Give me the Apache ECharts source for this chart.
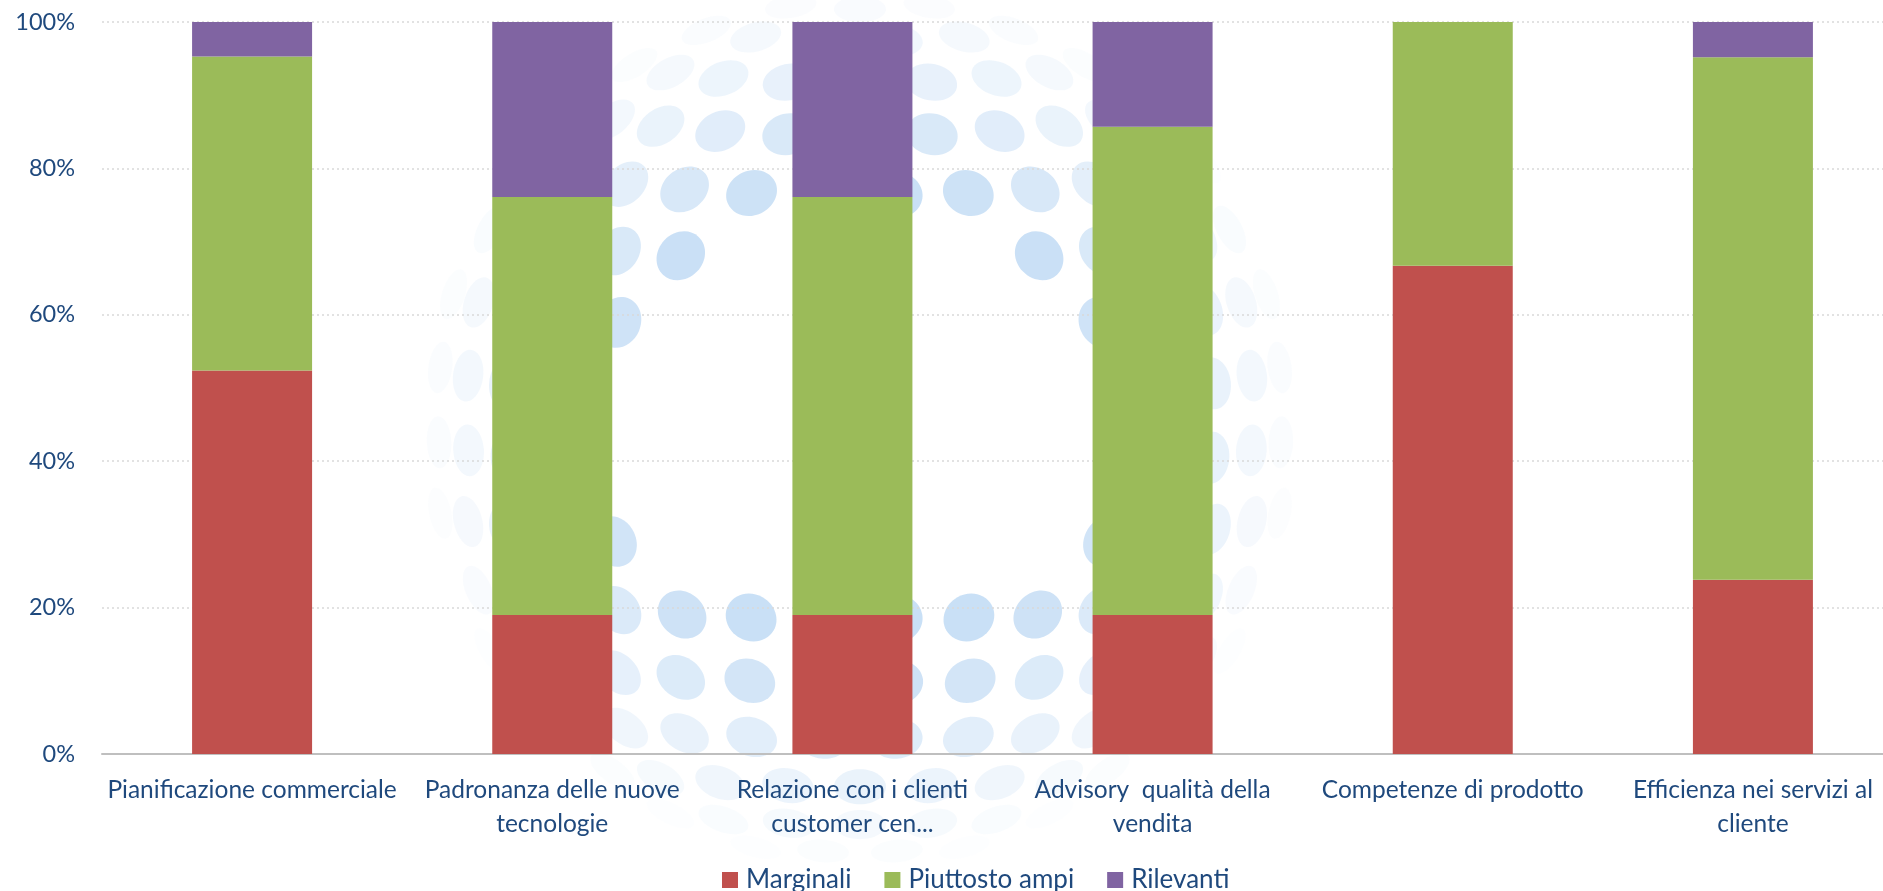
<!DOCTYPE html>
<html>
<head>
<meta charset="utf-8">
<script src="https://cdn.jsdelivr.net/npm/echarts@6/dist/echarts.min.js"></script>
<style>
html,body{margin:0;padding:0;background:#fff;overflow:hidden;}
#chart{width:1903px;height:891px;}
</style>
</head>
<body>
<div id="chart"></div>
<script>
const categories = [
  "Pianificazione commerciale",
  "Padronanza delle nuove\ntecnologie",
  "Relazione con i clienti\ncustomer cen...",
  "Advisory  qualità della\nvendita",
  "Competenze di prodotto",
  "Efficienza nei servizi al\ncliente"
];
const seriesNames = ["Marginali", "Piuttosto ampi", "Rilevanti"];
const marginali = [52.4, 19.0, 19.0, 19.0, 66.7, 23.8];
const piuttostoAmpi = [42.9, 57.1, 57.1, 66.7, 33.3, 71.4];
const rilevanti = [4.7, 23.9, 23.9, 14.3, 0, 4.8];
const yTicks = [0, 20, 40, 60, 80, 100];

const colors = ["#C0504D", "#9BBB59", "#8064A2"];
const textColor = "#1F497D";
const font = "Lato";

// decorative background watermark: a hollow globe of light-blue dots
function globeDots() {
  const cx = 860, cy = 425, R = 445, r0 = 26, step = 9.5;
  const tilt = 0.12;
  const out = [];
  let row = 0;
  for (let lat = -85.5; lat <= 86; lat += step, row++) {
    const phi = lat * Math.PI / 180;
    const n = Math.max(4, Math.round(360 / step * Math.cos(phi)));
    const off = (row % 2) * 0.5;
    for (let k = 0; k < n; k++) {
      const th = (k + off) / n * 2 * Math.PI - Math.PI;
      const x = Math.cos(phi) * Math.sin(th);
      const y = Math.sin(phi);
      const z = Math.cos(phi) * Math.cos(th);
      const y2 = y * Math.cos(tilt) - z * Math.sin(tilt);
      const z2 = y * Math.sin(tilt) + z * Math.cos(tilt);
      if (z2 <= 0.03) continue;
      const px = cx + R * x, py = cy - R * y2;
      const ex = (px - cx) / 268, ey = (py - 414) / 198;
      if (ex * ex + ey * ey < 1) continue;
      const d = Math.hypot(px - cx, py - cy);
      const ang = Math.atan2(py - cy, px - cx);
      const op = Math.min(1, Math.pow(Math.max(0, (R - d) / (R * 0.45)), 1.1)) * 0.85;
      if (op < 0.03) continue;
      out.push({
        type: 'ellipse', silent: true, z: -10,
        x: px, y: py, rotation: -ang,
        shape: {cx: 0, cy: 0, rx: r0 * (0.22 + 0.78 * z2), ry: r0},
        style: {fill: 'rgba(192,218,244,' + op.toFixed(3) + ')'}
      });
    }
  }
  return out;
}

const chart = echarts.init(document.getElementById('chart'), null, {renderer: 'canvas'});
const seriesData = [marginali, piuttostoAmpi, rilevanti];
chart.setOption({
  animation: false,
  backgroundColor: '#fff',
  color: colors,
  textStyle: {fontFamily: font},
  graphic: {elements: globeDots()},
  grid: {left: 102, top: 22, right: 0, bottom: 137, containLabel: false},
  legend: {
    data: seriesNames,
    left: 717, top: 862,
    icon: 'rect', itemWidth: 16, itemHeight: 16, itemGap: 33,
    textStyle: {color: textColor, fontSize: 26, fontFamily: font, padding: [0, 0, 0, 3]}
  },
  xAxis: {
    type: 'category',
    data: categories,
    axisLine: {lineStyle: {color: '#BFBFBF', width: 2}},
    axisTick: {show: false},
    axisLabel: {color: textColor, fontSize: 24.5, fontFamily: font, margin: 19, lineHeight: 34, interval: 0}
  },
  yAxis: {
    type: 'value',
    min: yTicks[0], max: yTicks[yTicks.length - 1], interval: 20,
    axisLine: {show: false},
    axisTick: {show: false},
    axisLabel: {color: textColor, fontSize: 23.5, fontFamily: font, margin: 27, formatter: '{value}%'},
    splitLine: {lineStyle: {color: '#D9D9D9', type: [2, 3], width: 1.5}}
  },
  series: seriesNames.map((n, i) => ({
    name: n,
    type: 'bar',
    stack: 'total',
    barWidth: 120,
    data: seriesData[i],
    itemStyle: {color: colors[i]}
  }))
});
</script>
</body>
</html>
